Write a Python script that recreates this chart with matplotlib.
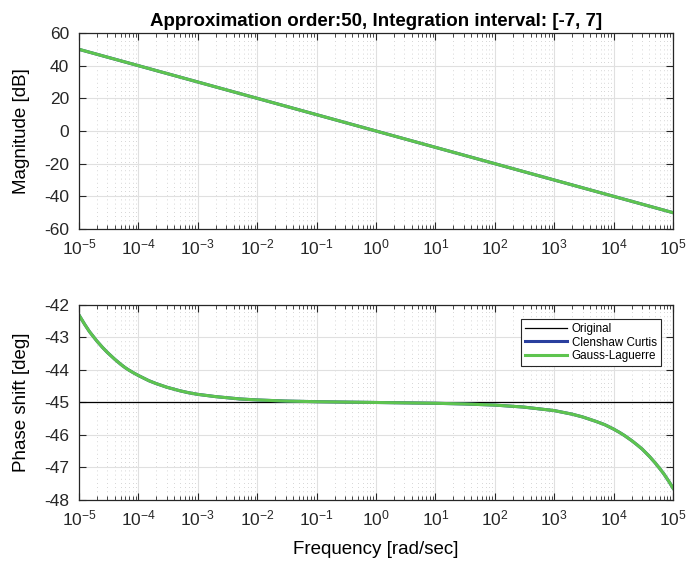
import numpy as np
import matplotlib
matplotlib.use("Agg")
import matplotlib.pyplot as plt
from matplotlib.ticker import LogLocator, NullFormatter, FuncFormatter

plt.rcParams["font.family"] = ["Liberation Sans", "DejaVu Sans"]
plt.rcParams["axes.unicode_minus"] = False
plt.rcParams["mathtext.default"] = "regular"

# magnitude read at each decade (dB)
mag_w = [1e-5, 1e-4, 1e-3, 1e-2, 1e-1, 1e0, 1e1, 1e2, 1e3, 1e4, 1e5]
mag_db = [50, 40, 30, 20, 10, 0, -10, -20, -30, -40, -50]

# phase (deg)
ph_w = [1e-5, 1.25e-5, 1.5e-5, 2e-5, 2.5e-5, 3e-5, 4e-5, 5e-5, 6e-5, 7e-5, 8.5e-5,
        1e-4, 1.5e-4, 2e-4, 3e-4, 5e-4, 7e-4, 1e-3, 2e-3, 5e-3, 1e-2, 3e-2, 1e-1,
        1e0, 1e1, 3e1, 1e2, 3e2, 1e3, 2e3, 3e3, 5e3, 7e3, 8.5e3, 1e4, 1.25e4, 1.5e4,
        2e4, 2.5e4, 3e4, 4e4, 5e4, 6e4, 7e4, 8.5e4, 1e5]
ph_deg = [-42.31, -42.60, -42.82, -43.11, -43.31, -43.46, -43.67, -43.82, -43.93,
          -44.01, -44.10, -44.17, -44.33, -44.42, -44.53, -44.64, -44.70, -44.75,
          -44.82, -44.89, -44.922, -44.956, -44.976, -45.0, -45.025, -45.045, -45.08,
          -45.14, -45.25, -45.36, -45.445, -45.58, -45.68, -45.755, -45.82, -45.92,
          -46.01, -46.17, -46.31, -46.43, -46.66, -46.86, -47.04, -47.20, -47.43, -47.64]

orig_w = [1e-5, 1e5]
orig_ph = [-45, -45]

GREEN = "#5ec44f"
BLUE = "#2a3f9e"

fig = plt.figure(figsize=(6.9, 5.69), dpi=100)
ax1 = fig.add_axes([0.1145, 0.5975, 0.861, 0.3445])
ax2 = fig.add_axes([0.1145, 0.1213, 0.861, 0.3427])


def pow_fmt(v, pos):
    e = int(round(np.log10(v)))
    return "$10^{%s}$" % ("-%d" % -e if e < 0 else "%d" % e)


def style(ax):
    ax.set_xscale("log")
    ax.set_xlim(1e-5, 1e5)
    ax.xaxis.set_major_locator(LogLocator(base=10, numticks=20))
    ax.xaxis.set_major_formatter(FuncFormatter(pow_fmt))
    ax.xaxis.set_minor_locator(LogLocator(base=10, subs=np.arange(2, 10), numticks=200))
    ax.xaxis.set_minor_formatter(NullFormatter())
    ax.grid(True, which="major", color="#e0e0e0", linewidth=0.8)
    ax.grid(True, which="minor", axis="x", color="#c8c8c8", linestyle=(0, (1, 4)), linewidth=0.6)
    ax.tick_params(which="both", direction="in", top=True, right=True, labelsize=12.5, colors="#262626")
    ax.tick_params(which="major", length=5, width=0.8)
    ax.tick_params(which="minor", length=3, width=0.6)
    ax.tick_params(axis="y", pad=7)
    ax.tick_params(axis="x", pad=6)
    for s in ax.spines.values():
        s.set_color("#262626")
        s.set_linewidth(0.9)
    ax.set_axisbelow(True)


style(ax1)
ax1.plot(mag_w, mag_db, color="black", linewidth=0.8)
ax1.plot(mag_w, mag_db, color=BLUE, linewidth=2.2)
ax1.plot(mag_w, mag_db, color=GREEN, linewidth=2.2)
ax1.set_ylim(-60, 60)
ax1.set_yticks(range(-60, 61, 20))
ax1.set_ylabel("Magnitude [dB]", fontsize=13.5, labelpad=10)
ax1.set_title("Approximation order:50, Integration interval: [-7, 7]",
              fontsize=13.5, fontweight="bold", pad=5)

style(ax2)
ax2.plot(orig_w, orig_ph, color="black", linewidth=0.9, label="Original")
ax2.plot(ph_w, ph_deg, color=BLUE, linewidth=2.2, label="Clenshaw Curtis")
ax2.plot(ph_w, ph_deg, color=GREEN, linewidth=2.2, label="Gauss-Laguerre")
ax2.set_ylim(-48, -42)
ax2.set_yticks(range(-48, -41))
ax2.set_ylabel("Phase shift [deg]", fontsize=13.5, labelpad=10)
ax2.set_xlabel("Frequency [rad/sec]", fontsize=13.5, labelpad=9)
leg = ax2.legend(loc="upper right", bbox_to_anchor=(0.979, 0.928), fontsize=8.4,
                 frameon=True, fancybox=False, edgecolor="#262626", framealpha=1,
                 borderaxespad=0, handlelength=3.6, handletextpad=0.4,
                 labelspacing=0.12, borderpad=0.35)
leg.get_frame().set_linewidth(0.8)

fig.savefig("out.png", dpi=100)
